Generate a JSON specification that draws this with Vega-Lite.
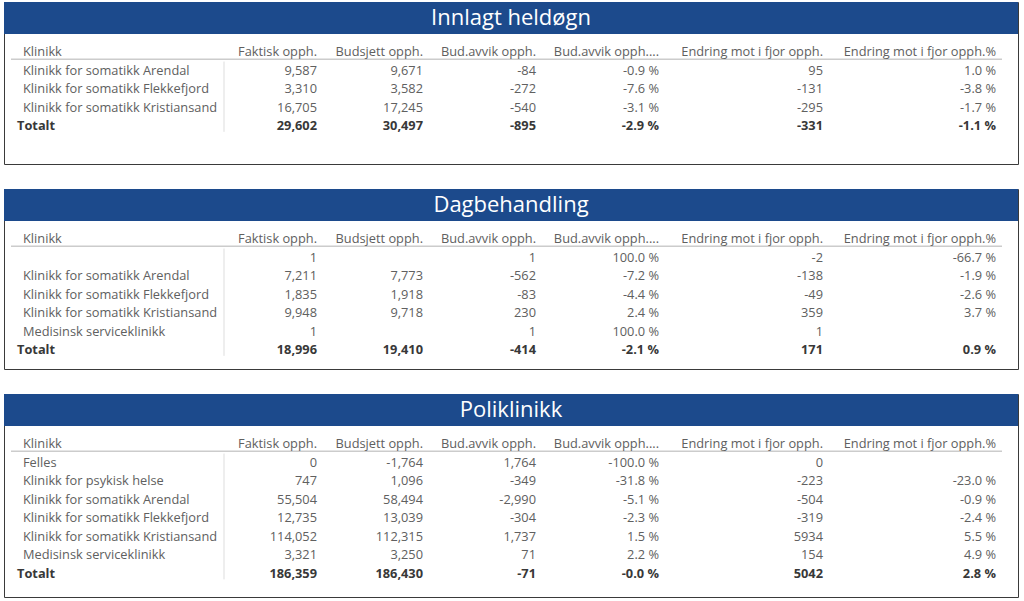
{
  "$schema": "https://vega.github.io/schema/vega-lite/v6.json",
  "padding": {"left": 3, "top": 1, "right": 3, "bottom": 0},
  "background": "white",
  "spacing": 23,
  "config": {
    "view": {"stroke": "#3a3a3a", "strokeWidth": 1},
    "text": {"font": "Open Sans", "fontSize": 12.8, "color": "#606060"}
  },
  "datasets": {
    "cells": [
      {"p": 1, "r": -2, "c": 0, "v": "Innlagt heldøgn", "b": 0},
      {"p": 1, "r": 0, "c": 0, "v": "Klinikk", "b": 0},
      {"p": 1, "r": 0, "c": 1, "v": "Faktisk opph.", "b": 0},
      {"p": 1, "r": 0, "c": 2, "v": "Budsjett opph.", "b": 0},
      {"p": 1, "r": 0, "c": 3, "v": "Bud.avvik opph.", "b": 0},
      {"p": 1, "r": 0, "c": 4, "v": "Bud.avvik opph....", "b": 0},
      {"p": 1, "r": 0, "c": 5, "v": "Endring mot i fjor opph.", "b": 0},
      {"p": 1, "r": 0, "c": 6, "v": "Endring mot i fjor opph.%", "b": 0},
      {"p": 1, "r": 1, "c": 0, "v": "Klinikk for somatikk Arendal", "b": 0},
      {"p": 1, "r": 1, "c": 1, "v": "9,587", "b": 0},
      {"p": 1, "r": 1, "c": 2, "v": "9,671", "b": 0},
      {"p": 1, "r": 1, "c": 3, "v": "-84", "b": 0},
      {"p": 1, "r": 1, "c": 4, "v": "-0.9 %", "b": 0},
      {"p": 1, "r": 1, "c": 5, "v": "95", "b": 0},
      {"p": 1, "r": 1, "c": 6, "v": "1.0 %", "b": 0},
      {"p": 1, "r": 2, "c": 0, "v": "Klinikk for somatikk Flekkefjord", "b": 0},
      {"p": 1, "r": 2, "c": 1, "v": "3,310", "b": 0},
      {"p": 1, "r": 2, "c": 2, "v": "3,582", "b": 0},
      {"p": 1, "r": 2, "c": 3, "v": "-272", "b": 0},
      {"p": 1, "r": 2, "c": 4, "v": "-7.6 %", "b": 0},
      {"p": 1, "r": 2, "c": 5, "v": "-131", "b": 0},
      {"p": 1, "r": 2, "c": 6, "v": "-3.8 %", "b": 0},
      {"p": 1, "r": 3, "c": 0, "v": "Klinikk for somatikk Kristiansand", "b": 0},
      {"p": 1, "r": 3, "c": 1, "v": "16,705", "b": 0},
      {"p": 1, "r": 3, "c": 2, "v": "17,245", "b": 0},
      {"p": 1, "r": 3, "c": 3, "v": "-540", "b": 0},
      {"p": 1, "r": 3, "c": 4, "v": "-3.1 %", "b": 0},
      {"p": 1, "r": 3, "c": 5, "v": "-295", "b": 0},
      {"p": 1, "r": 3, "c": 6, "v": "-1.7 %", "b": 0},
      {"p": 1, "r": 4, "c": 0, "v": "Totalt", "b": 1},
      {"p": 1, "r": 4, "c": 1, "v": "29,602", "b": 1},
      {"p": 1, "r": 4, "c": 2, "v": "30,497", "b": 1},
      {"p": 1, "r": 4, "c": 3, "v": "-895", "b": 1},
      {"p": 1, "r": 4, "c": 4, "v": "-2.9 %", "b": 1},
      {"p": 1, "r": 4, "c": 5, "v": "-331", "b": 1},
      {"p": 1, "r": 4, "c": 6, "v": "-1.1 %", "b": 1},

      {"p": 2, "r": -2, "c": 0, "v": "Dagbehandling", "b": 0},
      {"p": 2, "r": 0, "c": 0, "v": "Klinikk", "b": 0},
      {"p": 2, "r": 0, "c": 1, "v": "Faktisk opph.", "b": 0},
      {"p": 2, "r": 0, "c": 2, "v": "Budsjett opph.", "b": 0},
      {"p": 2, "r": 0, "c": 3, "v": "Bud.avvik opph.", "b": 0},
      {"p": 2, "r": 0, "c": 4, "v": "Bud.avvik opph....", "b": 0},
      {"p": 2, "r": 0, "c": 5, "v": "Endring mot i fjor opph.", "b": 0},
      {"p": 2, "r": 0, "c": 6, "v": "Endring mot i fjor opph.%", "b": 0},
      {"p": 2, "r": 1, "c": 1, "v": "1", "b": 0},
      {"p": 2, "r": 1, "c": 3, "v": "1", "b": 0},
      {"p": 2, "r": 1, "c": 4, "v": "100.0 %", "b": 0},
      {"p": 2, "r": 1, "c": 5, "v": "-2", "b": 0},
      {"p": 2, "r": 1, "c": 6, "v": "-66.7 %", "b": 0},
      {"p": 2, "r": 2, "c": 0, "v": "Klinikk for somatikk Arendal", "b": 0},
      {"p": 2, "r": 2, "c": 1, "v": "7,211", "b": 0},
      {"p": 2, "r": 2, "c": 2, "v": "7,773", "b": 0},
      {"p": 2, "r": 2, "c": 3, "v": "-562", "b": 0},
      {"p": 2, "r": 2, "c": 4, "v": "-7.2 %", "b": 0},
      {"p": 2, "r": 2, "c": 5, "v": "-138", "b": 0},
      {"p": 2, "r": 2, "c": 6, "v": "-1.9 %", "b": 0},
      {"p": 2, "r": 3, "c": 0, "v": "Klinikk for somatikk Flekkefjord", "b": 0},
      {"p": 2, "r": 3, "c": 1, "v": "1,835", "b": 0},
      {"p": 2, "r": 3, "c": 2, "v": "1,918", "b": 0},
      {"p": 2, "r": 3, "c": 3, "v": "-83", "b": 0},
      {"p": 2, "r": 3, "c": 4, "v": "-4.4 %", "b": 0},
      {"p": 2, "r": 3, "c": 5, "v": "-49", "b": 0},
      {"p": 2, "r": 3, "c": 6, "v": "-2.6 %", "b": 0},
      {"p": 2, "r": 4, "c": 0, "v": "Klinikk for somatikk Kristiansand", "b": 0},
      {"p": 2, "r": 4, "c": 1, "v": "9,948", "b": 0},
      {"p": 2, "r": 4, "c": 2, "v": "9,718", "b": 0},
      {"p": 2, "r": 4, "c": 3, "v": "230", "b": 0},
      {"p": 2, "r": 4, "c": 4, "v": "2.4 %", "b": 0},
      {"p": 2, "r": 4, "c": 5, "v": "359", "b": 0},
      {"p": 2, "r": 4, "c": 6, "v": "3.7 %", "b": 0},
      {"p": 2, "r": 5, "c": 0, "v": "Medisinsk serviceklinikk", "b": 0},
      {"p": 2, "r": 5, "c": 1, "v": "1", "b": 0},
      {"p": 2, "r": 5, "c": 3, "v": "1", "b": 0},
      {"p": 2, "r": 5, "c": 4, "v": "100.0 %", "b": 0},
      {"p": 2, "r": 5, "c": 5, "v": "1", "b": 0},
      {"p": 2, "r": 6, "c": 0, "v": "Totalt", "b": 1},
      {"p": 2, "r": 6, "c": 1, "v": "18,996", "b": 1},
      {"p": 2, "r": 6, "c": 2, "v": "19,410", "b": 1},
      {"p": 2, "r": 6, "c": 3, "v": "-414", "b": 1},
      {"p": 2, "r": 6, "c": 4, "v": "-2.1 %", "b": 1},
      {"p": 2, "r": 6, "c": 5, "v": "171", "b": 1},
      {"p": 2, "r": 6, "c": 6, "v": "0.9 %", "b": 1},

      {"p": 3, "r": -2, "c": 0, "v": "Poliklinikk", "b": 0},
      {"p": 3, "r": 0, "c": 0, "v": "Klinikk", "b": 0},
      {"p": 3, "r": 0, "c": 1, "v": "Faktisk opph.", "b": 0},
      {"p": 3, "r": 0, "c": 2, "v": "Budsjett opph.", "b": 0},
      {"p": 3, "r": 0, "c": 3, "v": "Bud.avvik opph.", "b": 0},
      {"p": 3, "r": 0, "c": 4, "v": "Bud.avvik opph....", "b": 0},
      {"p": 3, "r": 0, "c": 5, "v": "Endring mot i fjor opph.", "b": 0},
      {"p": 3, "r": 0, "c": 6, "v": "Endring mot i fjor opph.%", "b": 0},
      {"p": 3, "r": 1, "c": 0, "v": "Felles", "b": 0},
      {"p": 3, "r": 1, "c": 1, "v": "0", "b": 0},
      {"p": 3, "r": 1, "c": 2, "v": "-1,764", "b": 0},
      {"p": 3, "r": 1, "c": 3, "v": "1,764", "b": 0},
      {"p": 3, "r": 1, "c": 4, "v": "-100.0 %", "b": 0},
      {"p": 3, "r": 1, "c": 5, "v": "0", "b": 0},
      {"p": 3, "r": 2, "c": 0, "v": "Klinikk for psykisk helse", "b": 0},
      {"p": 3, "r": 2, "c": 1, "v": "747", "b": 0},
      {"p": 3, "r": 2, "c": 2, "v": "1,096", "b": 0},
      {"p": 3, "r": 2, "c": 3, "v": "-349", "b": 0},
      {"p": 3, "r": 2, "c": 4, "v": "-31.8 %", "b": 0},
      {"p": 3, "r": 2, "c": 5, "v": "-223", "b": 0},
      {"p": 3, "r": 2, "c": 6, "v": "-23.0 %", "b": 0},
      {"p": 3, "r": 3, "c": 0, "v": "Klinikk for somatikk Arendal", "b": 0},
      {"p": 3, "r": 3, "c": 1, "v": "55,504", "b": 0},
      {"p": 3, "r": 3, "c": 2, "v": "58,494", "b": 0},
      {"p": 3, "r": 3, "c": 3, "v": "-2,990", "b": 0},
      {"p": 3, "r": 3, "c": 4, "v": "-5.1 %", "b": 0},
      {"p": 3, "r": 3, "c": 5, "v": "-504", "b": 0},
      {"p": 3, "r": 3, "c": 6, "v": "-0.9 %", "b": 0},
      {"p": 3, "r": 4, "c": 0, "v": "Klinikk for somatikk Flekkefjord", "b": 0},
      {"p": 3, "r": 4, "c": 1, "v": "12,735", "b": 0},
      {"p": 3, "r": 4, "c": 2, "v": "13,039", "b": 0},
      {"p": 3, "r": 4, "c": 3, "v": "-304", "b": 0},
      {"p": 3, "r": 4, "c": 4, "v": "-2.3 %", "b": 0},
      {"p": 3, "r": 4, "c": 5, "v": "-319", "b": 0},
      {"p": 3, "r": 4, "c": 6, "v": "-2.4 %", "b": 0},
      {"p": 3, "r": 5, "c": 0, "v": "Klinikk for somatikk Kristiansand", "b": 0},
      {"p": 3, "r": 5, "c": 1, "v": "114,052", "b": 0},
      {"p": 3, "r": 5, "c": 2, "v": "112,315", "b": 0},
      {"p": 3, "r": 5, "c": 3, "v": "1,737", "b": 0},
      {"p": 3, "r": 5, "c": 4, "v": "1.5 %", "b": 0},
      {"p": 3, "r": 5, "c": 5, "v": "5934", "b": 0},
      {"p": 3, "r": 5, "c": 6, "v": "5.5 %", "b": 0},
      {"p": 3, "r": 6, "c": 0, "v": "Medisinsk serviceklinikk", "b": 0},
      {"p": 3, "r": 6, "c": 1, "v": "3,321", "b": 0},
      {"p": 3, "r": 6, "c": 2, "v": "3,250", "b": 0},
      {"p": 3, "r": 6, "c": 3, "v": "71", "b": 0},
      {"p": 3, "r": 6, "c": 4, "v": "2.2 %", "b": 0},
      {"p": 3, "r": 6, "c": 5, "v": "154", "b": 0},
      {"p": 3, "r": 6, "c": 6, "v": "4.9 %", "b": 0},
      {"p": 3, "r": 7, "c": 0, "v": "Totalt", "b": 1},
      {"p": 3, "r": 7, "c": 1, "v": "186,359", "b": 1},
      {"p": 3, "r": 7, "c": 2, "v": "186,430", "b": 1},
      {"p": 3, "r": 7, "c": 3, "v": "-71", "b": 1},
      {"p": 3, "r": 7, "c": 4, "v": "-0.0 %", "b": 1},
      {"p": 3, "r": 7, "c": 5, "v": "5042", "b": 1},
      {"p": 3, "r": 7, "c": 6, "v": "2.8 %", "b": 1}
    ]
  },
  "data": {"name": "cells"},
  "vconcat": [
    {
      "width": 1014, "height": 162,
      "transform": [{"filter": "datum.p == 1"}],
      "encoding": {
        "x": {"field": "c", "type": "quantitative", "axis": null, "scale": {"domain": [-2, -1, 0, 0.5, 1, 2, 3, 4, 5, 6, 7, 8], "range": [0, 7, 19, 220, 313, 419, 532, 655, 819, 992, 998, 1014], "nice": false, "zero": false}},
        "y": {"field": "r", "type": "quantitative", "axis": null, "scale": {"domain": [-3, -2, -1, 0, 10], "range": [0, 16, 32, 54, 239], "nice": false, "zero": false}}
      },
      "layer": [
        {"transform": [{"filter": "datum.r == -2"}], "mark": {"type": "rect", "color": "#1C4A8C"}, "encoding": {"x": {"datum": -2, "type": "quantitative"}, "x2": {"datum": 8}, "y": {"datum": -3, "type": "quantitative"}, "y2": {"datum": -1}}},
        {"transform": [{"filter": "datum.r == -2"}], "mark": {"type": "rule", "color": "#cccccc", "strokeWidth": 1.5}, "encoding": {"x": {"datum": -1, "type": "quantitative"}, "x2": {"datum": 7}, "y": {"datum": 0.17, "type": "quantitative"}}},
        {"transform": [{"filter": "datum.r == -2"}], "mark": {"type": "rule", "color": "#dddddd", "strokeWidth": 1}, "encoding": {"x": {"datum": 0.5, "type": "quantitative"}, "y": {"datum": 0.3, "type": "quantitative"}, "y2": {"datum": 4.1}}},
        {"transform": [{"filter": "datum.r == -2"}], "mark": {"type": "text", "color": "white", "fontSize": 22, "baseline": "middle", "align": "center"}, "encoding": {"x": null, "text": {"field": "v"}}},
        {"transform": [{"filter": "datum.r >= 0 && datum.c == 0 && datum.b == 0"}], "mark": {"type": "text", "align": "left", "baseline": "alphabetic"}, "encoding": {"text": {"field": "v"}}},
        {"transform": [{"filter": "datum.r >= 0 && datum.c > 0 && datum.b == 0"}], "mark": {"type": "text", "align": "right", "baseline": "alphabetic"}, "encoding": {"text": {"field": "v"}}},
        {"transform": [{"filter": "datum.c == 0 && datum.b == 1"}], "mark": {"type": "text", "align": "left", "baseline": "alphabetic", "fontWeight": "bold", "color": "#383838", "dx": -6}, "encoding": {"text": {"field": "v"}}},
        {"transform": [{"filter": "datum.c > 0 && datum.b == 1"}], "mark": {"type": "text", "align": "right", "baseline": "alphabetic", "fontWeight": "bold", "color": "#383838"}, "encoding": {"text": {"field": "v"}}}
      ]
    },
    {
      "width": 1014, "height": 180,
      "transform": [{"filter": "datum.p == 2"}],
      "encoding": {
        "x": {"field": "c", "type": "quantitative", "axis": null, "scale": {"domain": [-2, -1, 0, 0.5, 1, 2, 3, 4, 5, 6, 7, 8], "range": [0, 7, 19, 220, 313, 419, 532, 655, 819, 992, 998, 1014], "nice": false, "zero": false}},
        "y": {"field": "r", "type": "quantitative", "axis": null, "scale": {"domain": [-3, -2, -1, 0, 10], "range": [0, 16, 32, 54, 239], "nice": false, "zero": false}}
      },
      "layer": [
        {"transform": [{"filter": "datum.r == -2"}], "mark": {"type": "rect", "color": "#1C4A8C"}, "encoding": {"x": {"datum": -2, "type": "quantitative"}, "x2": {"datum": 8}, "y": {"datum": -3, "type": "quantitative"}, "y2": {"datum": -1}}},
        {"transform": [{"filter": "datum.r == -2"}], "mark": {"type": "rule", "color": "#cccccc", "strokeWidth": 1.5}, "encoding": {"x": {"datum": -1, "type": "quantitative"}, "x2": {"datum": 7}, "y": {"datum": 0.17, "type": "quantitative"}}},
        {"transform": [{"filter": "datum.r == -2"}], "mark": {"type": "rule", "color": "#dddddd", "strokeWidth": 1}, "encoding": {"x": {"datum": 0.5, "type": "quantitative"}, "y": {"datum": 0.3, "type": "quantitative"}, "y2": {"datum": 6.1}}},
        {"transform": [{"filter": "datum.r == -2"}], "mark": {"type": "text", "color": "white", "fontSize": 22, "baseline": "middle", "align": "center"}, "encoding": {"x": null, "text": {"field": "v"}}},
        {"transform": [{"filter": "datum.r >= 0 && datum.c == 0 && datum.b == 0"}], "mark": {"type": "text", "align": "left", "baseline": "alphabetic"}, "encoding": {"text": {"field": "v"}}},
        {"transform": [{"filter": "datum.r >= 0 && datum.c > 0 && datum.b == 0"}], "mark": {"type": "text", "align": "right", "baseline": "alphabetic"}, "encoding": {"text": {"field": "v"}}},
        {"transform": [{"filter": "datum.c == 0 && datum.b == 1"}], "mark": {"type": "text", "align": "left", "baseline": "alphabetic", "fontWeight": "bold", "color": "#383838", "dx": -6}, "encoding": {"text": {"field": "v"}}},
        {"transform": [{"filter": "datum.c > 0 && datum.b == 1"}], "mark": {"type": "text", "align": "right", "baseline": "alphabetic", "fontWeight": "bold", "color": "#383838"}, "encoding": {"text": {"field": "v"}}}
      ]
    },
    {
      "width": 1014, "height": 203,
      "transform": [{"filter": "datum.p == 3"}],
      "encoding": {
        "x": {"field": "c", "type": "quantitative", "axis": null, "scale": {"domain": [-2, -1, 0, 0.5, 1, 2, 3, 4, 5, 6, 7, 8], "range": [0, 7, 19, 220, 313, 419, 532, 655, 819, 992, 998, 1014], "nice": false, "zero": false}},
        "y": {"field": "r", "type": "quantitative", "axis": null, "scale": {"domain": [-3, -2, -1, 0, 10], "range": [0, 16, 32, 54, 239], "nice": false, "zero": false}}
      },
      "layer": [
        {"transform": [{"filter": "datum.r == -2"}], "mark": {"type": "rect", "color": "#1C4A8C"}, "encoding": {"x": {"datum": -2, "type": "quantitative"}, "x2": {"datum": 8}, "y": {"datum": -3, "type": "quantitative"}, "y2": {"datum": -1}}},
        {"transform": [{"filter": "datum.r == -2"}], "mark": {"type": "rule", "color": "#cccccc", "strokeWidth": 1.5}, "encoding": {"x": {"datum": -1, "type": "quantitative"}, "x2": {"datum": 7}, "y": {"datum": 0.17, "type": "quantitative"}}},
        {"transform": [{"filter": "datum.r == -2"}], "mark": {"type": "rule", "color": "#dddddd", "strokeWidth": 1}, "encoding": {"x": {"datum": 0.5, "type": "quantitative"}, "y": {"datum": 0.3, "type": "quantitative"}, "y2": {"datum": 7.1}}},
        {"transform": [{"filter": "datum.r == -2"}], "mark": {"type": "text", "color": "white", "fontSize": 22, "baseline": "middle", "align": "center"}, "encoding": {"x": null, "text": {"field": "v"}}},
        {"transform": [{"filter": "datum.r >= 0 && datum.c == 0 && datum.b == 0"}], "mark": {"type": "text", "align": "left", "baseline": "alphabetic"}, "encoding": {"text": {"field": "v"}}},
        {"transform": [{"filter": "datum.r >= 0 && datum.c > 0 && datum.b == 0"}], "mark": {"type": "text", "align": "right", "baseline": "alphabetic"}, "encoding": {"text": {"field": "v"}}},
        {"transform": [{"filter": "datum.c == 0 && datum.b == 1"}], "mark": {"type": "text", "align": "left", "baseline": "alphabetic", "fontWeight": "bold", "color": "#383838", "dx": -6}, "encoding": {"text": {"field": "v"}}},
        {"transform": [{"filter": "datum.c > 0 && datum.b == 1"}], "mark": {"type": "text", "align": "right", "baseline": "alphabetic", "fontWeight": "bold", "color": "#383838"}, "encoding": {"text": {"field": "v"}}}
      ]
    }
  ]
}
